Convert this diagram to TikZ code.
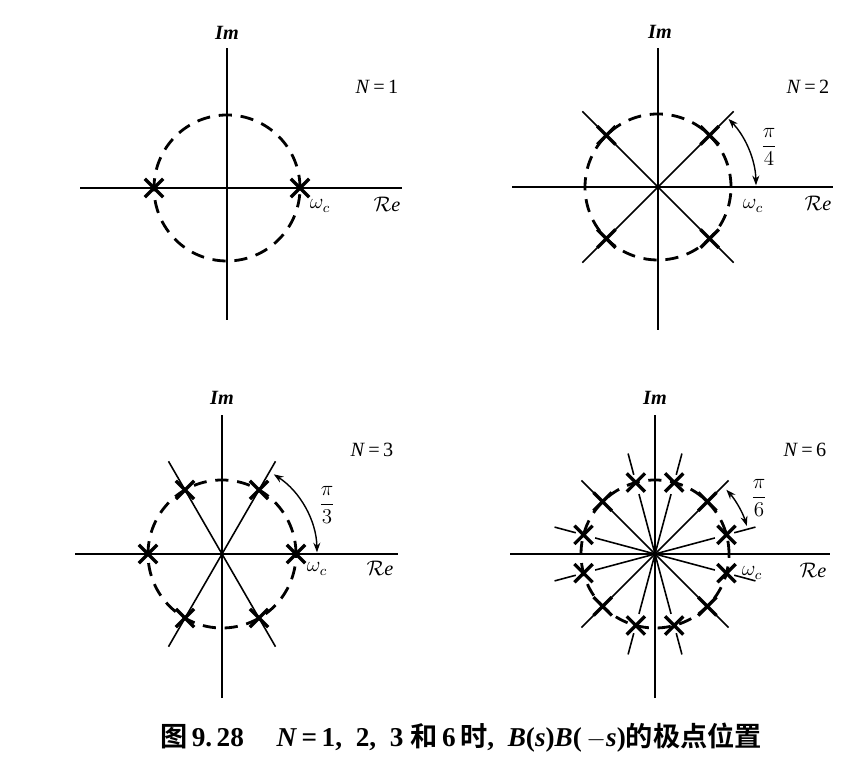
\documentclass[tikz,border=0pt]{standalone}
\usepackage{fontspec}
\setmainfont{Liberation Serif}
\newfontfamily\cjk{Noto Sans CJK SC}[BoldFont={Noto Sans CJK SC Bold}]
\usepackage{tikz}
\usetikzlibrary{arrows.meta,shapes.misc}
\newcommand{\axlbl}{\fontsize{11.5}{13}\selectfont}

\begin{document}
\begin{tikzpicture}[x=0.02cm,y=0.02cm,
    axis/.style={line width=1.1pt},
    rim/.style={line width=1.6pt,dash pattern=on 7.5pt off 5pt},
    ray/.style={line width=0.9pt},
    pole/.style={cross out,draw,line width=1.9pt,minimum size=8.5pt,inner sep=0pt},
    angarr/.style={line width=0.8pt,{Stealth[length=5.5pt,width=4pt]}-{Stealth[length=5.5pt,width=4pt]}},
    lbl/.style={inner sep=1pt,font=\axlbl}]
  \useasboundingbox (0,0) rectangle (864,780);

  % N = 1
  \begin{scope}[shift={(227,592)}]
    \coordinate (o1) at (0,0);
    \draw[axis] (0,-132) -- (0,140);
    \draw[axis] (-147,0) -- (175,0);
    \draw[rim] (o1) circle[radius=73];
    \node[pole] (p1a) at (0:73) {};
    \node[pole] (p1b) at (180:73) {};
    \node[lbl] (im1) at (0,155) {\textbf{\textit{Im}}};
    \node[lbl] (re1) at (160,-16) {$\mathcal{R}$\textit{e}};
    \node[lbl] (wc1) at (93,-18) {$\omega_c$};
    \node[lbl] (n1) at (150,101) {\textit{N}\,=\,1};
  \end{scope}

  % N = 2
  \begin{scope}[shift={(658,593)}]
    \coordinate (o2) at (0,0);
    \draw[axis] (0,-143) -- (0,139);
    \draw[axis] (-146,0) -- (175,0);
    \foreach \a in {45,135}
      \draw[ray] (\a:107) -- (\a+180:107);
    \draw[rim] (o2) circle[radius=73];
    \foreach \a/\n in {45/a,135/b,225/c,315/d}
      \node[pole] (p2\n) at (\a:73) {};
    \coordinate (b2s) at (44:98);
    \draw[angarr] (b2s) arc[start angle=44,end angle=1,radius=98] coordinate (b2e);
    \node[lbl] (t2) at (111,40) {$\displaystyle\frac{\pi}{4}$};
    \node[lbl] (im2) at (2,155) {\textbf{\textit{Im}}};
    \node[lbl] (re2) at (160,-16) {$\mathcal{R}$\textit{e}};
    \node[lbl] (wc2) at (95,-19) {$\omega_c$};
    \node[lbl] (n2) at (150,100) {\textit{N}\,=\,2};
  \end{scope}

  % N = 3
  \begin{scope}[shift={(222,226)}]
    \coordinate (o3) at (0,0);
    \draw[axis] (0,-144) -- (0,139);
    \draw[axis] (-147,0) -- (176,0);
    \foreach \a in {60,120}
      \draw[ray] (\a:107) -- (\a+180:107);
    \draw[rim] (o3) circle[radius=74];
    \foreach \a/\n in {0/a,60/b,120/c,180/d,240/e,300/f}
      \node[pole] (p3\n) at (\a:74) {};
    \coordinate (b3s) at (57:95);
    \draw[angarr] (b3s) arc[start angle=57,end angle=1,radius=95] coordinate (b3e);
    \node[lbl] (t3) at (105,49) {$\displaystyle\frac{\pi}{3}$};
    \node[lbl] (im3) at (0,156) {\textbf{\textit{Im}}};
    \node[lbl] (re3) at (158,-14) {$\mathcal{R}$\textit{e}};
    \node[lbl] (wc3) at (95,-15) {$\omega_c$};
    \node[lbl] (n3) at (150,104) {\textit{N}\,=\,3};
  \end{scope}

  % N = 6
  \begin{scope}[shift={(655,226)}]
    \coordinate (o6) at (0,0);
    \draw[axis] (0,-144) -- (0,139);
    \draw[axis] (-145,0) -- (175,0);
    \foreach \a in {15,45,75,105,135,165} {
      \draw[ray] (\a:62) -- (\a+180:62);
      \draw[ray] (\a:82) -- (\a:104);
      \draw[ray] (\a+180:82) -- (\a+180:104);
    }
    \draw[rim] (o6) circle[radius=74];
    \foreach \a/\n in {15/a,45/b,75/c,105/d,135/e,165/f,195/g,225/h,255/i,285/j,315/k,345/l}
      \node[pole] (p6\n) at (\a:74) {};
    \coordinate (b6s) at (42:96);
    \draw[angarr] (b6s) arc[start angle=42,end angle=17,radius=96] coordinate (b6e);
    \node[lbl] (t6) at (104,56) {$\displaystyle\frac{\pi}{6}$};
    \node[lbl] (im6) at (0,156) {\textbf{\textit{Im}}};
    \node[lbl] (re6) at (158,-16) {$\mathcal{R}$\textit{e}};
    \node[lbl] (wc6) at (97,-19) {$\omega_c$};
    \node[lbl] (n6) at (150,104) {\textit{N}\,=\,6};
  \end{scope}

  \node[inner sep=0pt] (cap) at (461,42) {\fontsize{15.5}{18}\selectfont\bfseries
    {\cjk 图}\,9.\,28\hspace{1.2em}\textit{N}\,=\,1,\ \ 2,\ \ 3\ {\cjk 和}\,6\,{\cjk 时},\ \ \textit{B}(\textit{s})\textit{B}(\,$-$\textit{s}){\cjk 的极点位置}};
\end{tikzpicture}
\end{document}
